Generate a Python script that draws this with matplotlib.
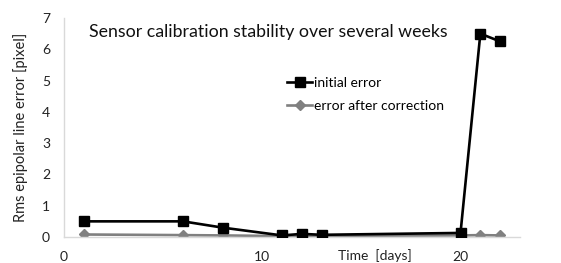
import matplotlib
matplotlib.use("Agg")
import matplotlib.pyplot as plt

days = [1, 6, 8, 11, 12, 13, 20, 21, 22]
initial_error = [0.5, 0.5, 0.3, 0.05, 0.1, 0.07, 0.13, 6.5, 6.25]
corrected_error = [0.08, 0.06, 0.05, 0.03, 0.02, 0.04, 0.05, 0.06, 0.05]
x_ticks = [0, 10, 20]
y_ticks = [0, 1, 2, 3, 4, 5, 6, 7]

plt.rcParams['font.family'] = ['Lato', 'DejaVu Sans']

fig = plt.figure(figsize=(5.61, 2.63), dpi=100)
ax = fig.add_axes([64/561, 26/263, (520-64)/561, (237-18)/263])

ax.plot(days, initial_error, color='black', lw=1.9, marker='s', ms=7,
        label='initial error', zorder=3)
ax.plot(days, corrected_error, color='#808080', lw=1.9, marker='D', ms=5,
        label='error after correction', zorder=2)

ax.set_xlim(0, 23)
ax.set_ylim(0, 7)
ax.set_xticks(x_ticks)
ax.set_yticks(y_ticks)
ax.tick_params(length=0, labelsize=10, colors='#222222')
ax.tick_params(axis='x', pad=10)
ax.tick_params(axis='y', pad=10)
for s in ['top', 'right']:
    ax.spines[s].set_visible(False)
for s in ['left', 'bottom']:
    ax.spines[s].set_color('#d9d9d9')
    ax.spines[s].set_linewidth(1)

ax.set_ylabel('Rms epipolar line error [pixel]', fontsize=10.5, color='#222222', labelpad=10)
ax.text((375-64)/456*23, -0.58, 'Time  [days]', transform=ax.transData, fontsize=10,
        color='#222222', ha='center', va='center', clip_on=False)
ax.text(0.055, 0.935, 'Sensor calibration stability over several weeks',
        transform=ax.transAxes, fontsize=12.8, color='#111111', ha='left', va='center')

leg = ax.legend(loc='upper left', bbox_to_anchor=(0.49, 0.73), frameon=False,
                fontsize=10, handlelength=1.8, handletextpad=0.1, labelspacing=0.75,
                borderaxespad=0, borderpad=0)

fig.savefig('out.png', dpi=100)
